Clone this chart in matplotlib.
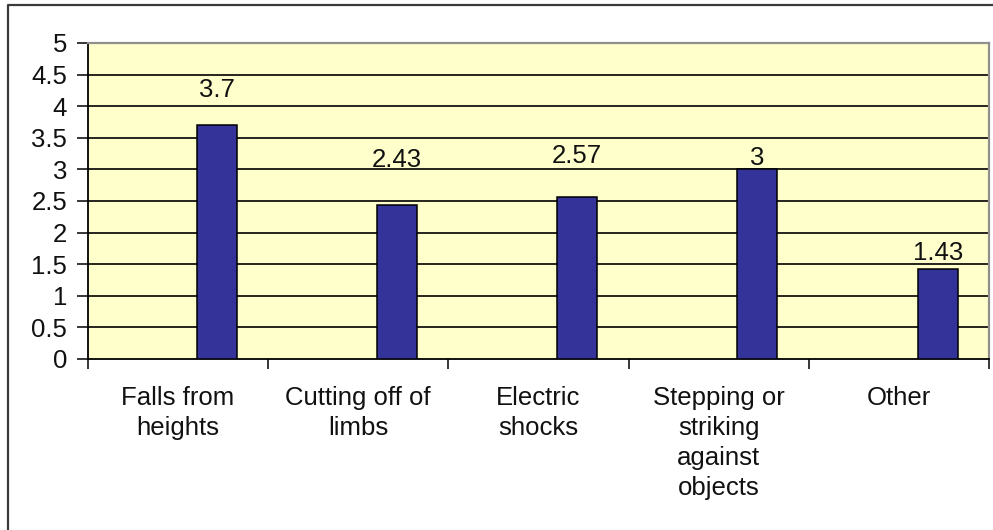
import numpy as np
import matplotlib.pyplot as plt
from matplotlib.lines import Line2D

# values
categories = ["Falls from\nheights", "Cutting off of\nlimbs", "Electric\nshocks",
              "Stepping or\nstriking\nagainst\nobjects", "Other"]
values = [3.7, 2.43, 2.57, 3.0, 1.43]
labels = ["3.7", "2.43", "2.57", "3", "1.43"]
label_y = [4.15, 3.04, 3.10, 3.07, 1.57]   # label baselines as drawn in the original
yticks = [0, 0.5, 1, 1.5, 2, 2.5, 3, 3.5, 4, 4.5, 5]

plt.rcParams["font.family"] = ["Liberation Sans", "DejaVu Sans"]

fig = plt.figure(figsize=(9.93, 5.30), dpi=100)
ax = fig.add_axes([88 / 993, 1 - 359 / 530, (989 - 88) / 993, (359 - 43) / 530])
ax.set_facecolor("#FFFFCC")

x = np.arange(len(values))
for yv in yticks[1:-1]:
    ax.axhline(yv, color="black", lw=1.2, zorder=1)

ax.bar(x + 0.215, values, width=0.222, color="#333399", edgecolor="black",
       linewidth=1.1, zorder=3)

for xi, lab, ly in zip(x, labels, label_y):
    ax.text(xi + 0.215, ly, lab, ha="center", va="baseline", fontsize=18.5,
            color="#111111", zorder=4)

ax.set_xlim(-0.5, len(values) - 0.5)
ax.set_ylim(0, 5)

ax.set_yticks(yticks)
ax.set_yticklabels([f"{v:g}" for v in yticks], fontsize=18.5, color="#111111")
ax.tick_params(axis="y", length=8, width=1.1, pad=7, color="black")

ax.set_xticks(np.arange(len(values) + 1) - 0.5)
ax.set_xticklabels([])
ax.tick_params(axis="x", which="major", length=7, width=1.1, color="black")
ax.set_xticks(x, minor=True)
ax.set_xticklabels(categories, minor=True, fontsize=18.5, color="#111111",
                   linespacing=1.32)
ax.tick_params(axis="x", which="minor", length=0, pad=19.5)

ax.spines["left"].set_color("black")
ax.spines["left"].set_linewidth(1.3)
ax.spines["bottom"].set_color("black")
ax.spines["bottom"].set_linewidth(1.3)
ax.spines["top"].set_color("#909090")
ax.spines["top"].set_linewidth(1.6)
ax.spines["right"].set_color("#909090")
ax.spines["right"].set_linewidth(1.6)

# outer chart border (only top and left visible in the original crop)
fig.add_artist(Line2D([8 / 993, 8 / 993, 1.0], [0.0, 1 - 5 / 530, 1 - 5 / 530],
                      transform=fig.transFigure, color="#3a3a3a", lw=1.6))

fig.savefig("out.png", dpi=100)
